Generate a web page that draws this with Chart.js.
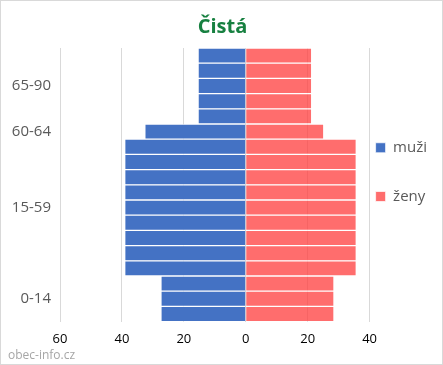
<!DOCTYPE html>
<html lang="cs">
<head>
  <meta charset="UTF-8" />
  <title>Čistá</title>
  <script src="https://cdn.jsdelivr.net/npm/chart.js"></script>
<style>
  html, body { margin: 0; padding: 0; background: #fff; }
  .wrap {
    width: 443px;
    height: 365px;
    box-sizing: border-box;
    border: 1px solid #d9d9d9;
  }
  canvas { display: block; }
</style>
</head>
<body>
  <div class="wrap">
    <canvas id="pyramid" width="441" height="363"></canvas>
  </div>
  <script>
    // one row per 5 years, label only on the middle row of each group
    const labels = ['', '', '65-90', '', '', '60-64', '', '', '', '', '15-59', '', '', '', '', '', '0-14', ''];
    const muzi = [-15.4, -15.4, -15.4, -15.4, -15.4, -32.6,
      -39.1, -39.1, -39.1, -39.1, -39.1, -39.1, -39.1, -39.1, -39.1,
      -27.4, -27.4, -27.4];
    const zeny = [21.3, 21.3, 21.3, 21.3, 21.3, 25.2,
      35.7, 35.7, 35.7, 35.7, 35.7, 35.7, 35.7, 35.7, 35.7,
      28.5, 28.5, 28.5];
    const xTicks = [-60, -40, -20, 0, 20, 40];

    const font = "'Open Sans', sans-serif";

    new Chart(document.getElementById('pyramid'), {
      type: 'bar',
      data: {
        labels: labels,
        datasets: [{
          label: 'muži',
          data: muzi,
          backgroundColor: '#4472c4',
          borderColor: 'rgba(255,255,255,0.7)',
          borderWidth: 1,
          barPercentage: 1,
          categoryPercentage: 1
        }, {
          label: 'ženy',
          data: zeny,
          backgroundColor: 'rgba(255,60,60,0.75)',
          borderColor: 'rgba(255,255,255,0.7)',
          borderWidth: 1,
          barPercentage: 1,
          categoryPercentage: 1
        }]
      },
      options: {
        indexAxis: 'y',
        responsive: false,
        animation: false,
        layout: { padding: { left: 7, right: 5, top: 0, bottom: 0 } },
        plugins: {
          title: {
            display: true,
            text: 'Čistá',
            color: '#178040',
            font: { family: font, size: 20, weight: 'bold' },
            padding: { top: 14, bottom: 9 }
          },
          subtitle: {
            display: true,
            text: 'obec-info.cz',
            position: 'bottom',
            align: 'start',
            color: '#a6a6a6',
            font: { family: font, size: 12 },
            padding: { top: 0, bottom: 1 }
          },
          legend: {
            position: 'right',
            // empty title only nudges the items down a little
            title: { display: true, text: '', font: { size: 1, lineHeight: 1 }, padding: 3 },
            labels: {
              color: '#595959',
              // tall line height gives the wide gap between the two items
              font: { family: font, size: 15, lineHeight: 2.85 },
              boxWidth: 10,
              boxHeight: 10,
              padding: 6,
              generateLabels: (chart) => Chart.defaults.plugins.legend.labels.generateLabels(chart)
                .map(l => Object.assign(l, { text: [l.text] }))
            }
          },
          tooltip: { enabled: false }
        },
        scales: {
          x: {
            stacked: true,
            min: -60,
            max: 40,
            afterBuildTicks: (axis) => { axis.ticks = xTicks.map(v => ({ value: v })); },
            afterFit: (s) => { s.height = 27; },
            ticks: {
              color: '#000',
              font: { family: font, size: 13 },
              padding: 10,
              callback: (v) => Math.abs(v)
            },
            grid: { color: '#d9d9d9', drawTicks: false },
            border: { display: false }
          },
          y: {
            stacked: true,
            afterFit: (s) => { s.width = 52; },
            ticks: {
              color: '#595959',
              font: { family: font, size: 15 },
              autoSkip: false,
              padding: 9
            },
            grid: { display: false, drawTicks: false },
            border: { display: false }
          }
        }
      }
    });
  </script>
</body>
</html>
